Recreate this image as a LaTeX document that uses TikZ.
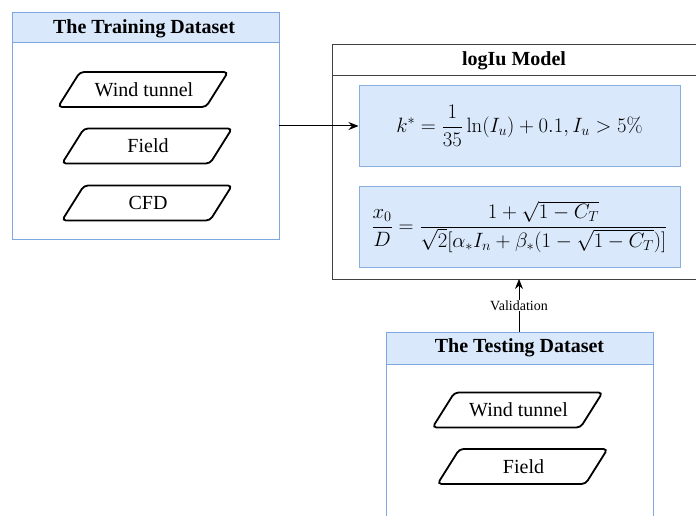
\documentclass[tikz,border=0pt]{standalone}
\usepackage[no-math]{fontspec}
\setmainfont{Liberation Serif}
\usetikzlibrary{arrows.meta}
\definecolor{hdrblue}{HTML}{DAE8FC}
\definecolor{edgeblue}{HTML}{7EA6E0}
\definecolor{eqedge}{HTML}{8BAEE0}
\tikzset{
  panel/.style={draw=edgeblue, line width=1pt, fill=white},
  header/.style={draw=edgeblue, line width=1pt, fill=hdrblue},
  hdrtext/.style={font=\fontsize{20}{22}\selectfont\bfseries, inner sep=0pt},
  ioshape/.style={draw=black, line width=1.8pt, rounded corners=4pt, fill=white},
  iotext/.style={font=\fontsize{20}{22}\selectfont, inner sep=0pt},
  eqbox/.style={draw=eqedge, line width=1pt, fill=hdrblue},
  conn/.style={-{Stealth[length=10pt,width=8pt]}, line width=1pt, black},
}
\newcommand{\iobox}[4]{%
  \begin{scope}[shift={(#2,#3)}]
    \draw[ioshape] (-63,-17.5) -- (85,-17.5) -- (63,17.5) -- (-85,17.5) -- cycle;
    \node[iotext] (#1) at (1,0) {#4};
  \end{scope}}
\begin{document}
\begin{tikzpicture}[x=1pt,y=-1pt]
\useasboundingbox (0,0) rectangle (696,516);
\clip (0,0) rectangle (696,516);
\fill[white] (0,0) rectangle (696,516);

% Training dataset
\draw[panel] (12,13) rectangle (279,239);
\draw[header] (12,13) rectangle (279,43);
\node[hdrtext] (trainhdr) at (144,28.5) {The Training Dataset};
\coordinate (train) at (279,126);
\iobox{tw}{143}{89.5}{Wind tunnel}
\iobox{tf}{147}{146}{Field}
\iobox{tc}{147}{203}{CFD}

% Model
\draw[line width=1pt, draw=black!75, fill=white] (332,45) rectangle (710,279);
\draw[line width=1pt, draw=black!75] (332,76) -- (710,76);
\node[hdrtext] (modelhdr) at (514,61) {logIu Model};
\node[eqbox, minimum width=321pt, minimum height=80pt, inner sep=0pt] (eq1) at (519.5,126)
  {\fontsize{20}{22}\selectfont $\displaystyle k^{*}=\frac{1}{35}\ln(I_u)+0.1, I_u>5\%$};
\node[eqbox, minimum width=321pt, minimum height=81pt, inner sep=0pt] (eq2) at (519.5,226.5)
  {\fontsize{20.5}{22}\selectfont $\displaystyle \frac{x_0}{D}=\frac{1+\sqrt{1-C_T}}{\sqrt{2}[\alpha_* I_n+\beta_*(1-\sqrt{1-C_T})]}$};
\coordinate (modelbot) at (519,279);

% Testing dataset
\draw[panel] (386,332) rectangle (653,530);
\draw[header] (386,332) rectangle (653,364);
\node[hdrtext] (testhdr) at (519.5,348) {The Testing Dataset};
\coordinate (testtop) at (519,332);
\iobox{sw}{517.5}{410}{Wind tunnel}
\iobox{sf}{522.5}{466.5}{Field}

% Connectors
\draw[conn] (train) -- (eq1.west);
\draw[conn] (testtop) -- node[fill=white, inner sep=1pt, font=\fontsize{14}{15}\selectfont] (val) {Validation} (modelbot);
\end{tikzpicture}
\end{document}
